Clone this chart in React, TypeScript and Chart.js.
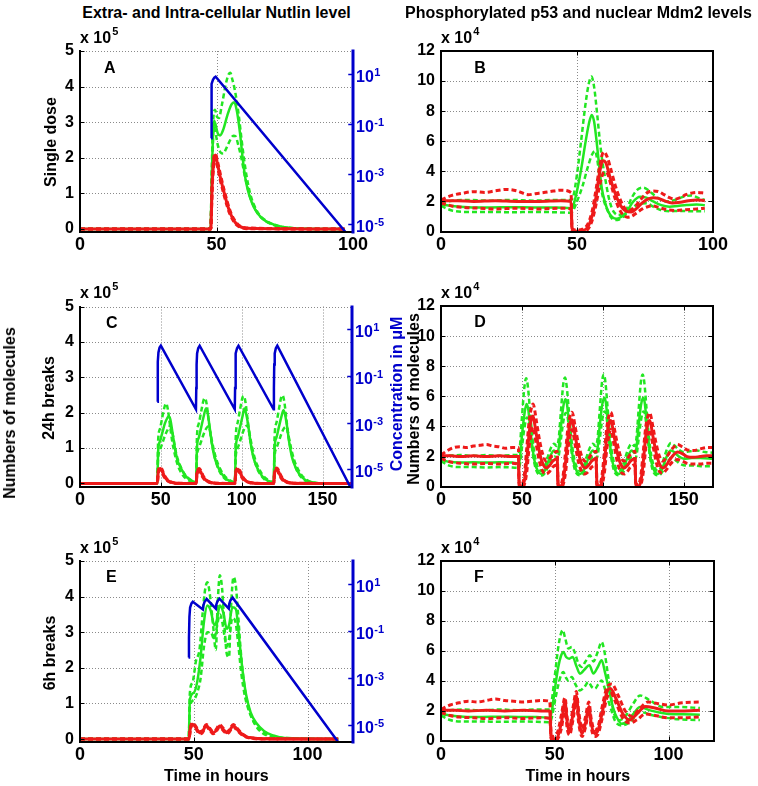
import React, { useEffect, useRef } from 'react';
import { Chart, registerables } from 'chart.js';

Chart.register(...registerables);

type P = [number, number][];

// ---------------- Panel A (single dose) : x10^5 molecules, blue = concentration (uM)
const A_GREEN_MEAN: P = [[0,0],[47.8,0],[48.3,1.6],[48.7,2.6],[49.1,3.05],[49.6,2.95],[50.4,2.7],[51.3,2.63],[52.5,2.8],[54,3.2],[55.5,3.5],[56.5,3.56],[57.5,3.3],[58.6,2.7],[59.5,2.05],[60.4,1.5],[61.5,1.08],[62.9,0.75],[64.5,0.5],[66.5,0.31],[68.5,0.2],[71.4,0.12],[74,0.06],[77.5,0.03],[82,0.01],[97,0]];
const A_GREEN_HI: P = [[0,0],[47.8,0],[48.3,1.8],[48.7,2.9],[49.4,3.35],[50.2,3.15],[50.9,3.12],[52,3.5],[53.5,4.1],[54.5,4.35],[55.1,4.39],[55.8,4.2],[56.6,3.95],[57.4,3.6],[58.3,3.1],[59.2,2.5],[60.2,1.9],[61.1,1.45],[62.3,1.0],[63.6,0.7],[65.5,0.42],[68,0.24],[71,0.12],[74,0.06],[78,0.02],[97,0]];
const A_GREEN_LO: P = [[0,0],[47.8,0],[48.3,1.4],[48.7,2.4],[48.9,2.85],[49.5,2.75],[50.5,2.35],[51.5,2.15],[52.5,2.12],[53.5,2.25],[55,2.5],[56.2,2.62],[57,2.6],[58,2.35],[59.2,1.96],[60.2,1.55],[61.1,1.25],[62.5,0.85],[64,0.58],[66,0.35],[68.5,0.2],[71.4,0.1],[75,0.05],[80,0.01],[97,0]];
const A_RED_MEAN: P = [[0,0],[47.9,0],[48.4,1.2],[49,1.9],[49.6,2.08],[50.3,1.85],[51.3,1.49],[52.2,1.2],[53.1,0.93],[54,0.68],[54.9,0.47],[55.8,0.32],[56.8,0.19],[58,0.1],[59.2,0.05],[61,0.02],[97,0]];
const A_RED_HI: P = [[0,0],[47.9,0],[48.4,1.3],[49,2.0],[49.6,2.12],[50.3,1.92],[51.3,1.58],[52.2,1.28],[53.1,1.0],[54,0.75],[54.9,0.53],[55.8,0.36],[56.8,0.23],[58,0.12],[59.2,0.06],[61,0.03],[97,0]];
const A_RED_LO: P = [[0,0],[47.9,0],[48.4,1.1],[49,1.8],[49.6,2.0],[50.3,1.78],[51.3,1.4],[52.2,1.12],[53.1,0.86],[54,0.62],[54.9,0.42],[55.8,0.28],[56.8,0.16],[58,0.08],[59.2,0.04],[61,0.01],[97,0]];
const A_BLUE: P = [[48,0.027],[48.1,0.2],[48.2,1.5],[48.3,4.0],[48.7,5.8],[49.2,7.1],[49.7,7.8],[97.1,5.0e-6]];

// ---------------- Panel B (single dose) : x10^4 molecules
const B_RED_HI: P = [[0,2.1],[4,2.4],[8,2.55],[12,2.65],[16,2.6],[20,2.7],[24,2.8],[28,2.7],[32,2.45],[36,2.55],[40,2.65],[44,2.75],[47.8,2.6],[48.2,0.2],[50,0.1],[52,0.15],[54,0.5],[55.5,1.3],[57,2.8],[58.5,4.5],[59.8,5.3],[61,5.0],[62.5,4.1],[64,3.1],[65.5,2.3],[67,1.7],[68.5,1.4],[70,1.45],[72,1.8],[74,2.25],[76,2.6],[78,2.7],[80,2.65],[82,2.45],[84,2.25],[86,2.15],[88,2.25],[90,2.45],[92,2.55],[94,2.6],[97,2.55]];
const B_RED_MEAN: P = [[0,2.05],[6,2.05],[12,2.0],[20,2.05],[28,2.0],[36,2.0],[44,2.05],[47.8,2.0],[48.2,0.05],[50,0.02],[52,0.05],[54,0.3],[55.5,1.0],[57,2.3],[58.3,3.9],[59.5,4.7],[60.5,4.6],[62,3.7],[63.5,2.8],[65,2.1],[66.5,1.6],[68,1.35],[70,1.3],[72,1.55],[74,1.9],[76,2.15],[78,2.25],[80,2.2],[82,2.05],[85,1.9],[88,1.95],[91,2.05],[94,2.1],[97,2.05]];
const B_RED_LO: P = [[0,1.9],[4,1.7],[8,1.6],[14,1.55],[20,1.5],[28,1.55],[36,1.5],[44,1.55],[47.8,1.5],[48.2,0],[52,0],[54,0.15],[55.5,0.7],[57,1.8],[58.5,3.2],[60,3.95],[61,3.9],[62.5,3.1],[64,2.2],[65.5,1.5],[67,1.1],[68.5,0.95],[70,1.0],[72,1.25],[74,1.5],[76,1.65],[78,1.7],[80,1.6],[83,1.45],[86,1.4],[90,1.45],[94,1.5],[97,1.55]];
const B_GREEN_HI: P = [[0,1.9],[4,2.05],[10,2.1],[18,2.05],[26,2.1],[34,2.05],[42,2.1],[47.8,2.1],[48.6,2.3],[50,3.8],[51.5,6.0],[53,8.3],[54.3,9.8],[55.3,10.3],[56.3,9.6],[57.3,8.0],[58.3,6.2],[59.3,4.7],[60.3,3.6],[61.5,2.4],[62.7,1.6],[64,1.2],[65.2,1.1],[66.5,1.15],[68,1.4],[70,2.2],[72,2.75],[74.4,2.92],[76.5,2.7],[78.5,2.4],[81,2.1],[83,2.0],[86,2.1],[89,2.3],[92,2.4],[95,2.2],[97,2.1]];
const B_GREEN_MEAN: P = [[0,1.8],[4,1.7],[10,1.62],[18,1.6],[26,1.62],[34,1.6],[42,1.6],[47.8,1.55],[48.6,1.7],[50,2.7],[51.5,4.1],[53,5.8],[54.3,7.1],[55.4,7.75],[56.3,7.3],[57.2,6.0],[58.2,4.3],[59.1,2.9],[60.2,2.0],[61.5,1.32],[63,0.95],[64.6,0.85],[66.5,1.0],[68.3,1.32],[70.5,1.95],[73.2,2.31],[75.5,2.25],[78,2.0],[81,1.75],[84,1.65],[87,1.7],[90.3,1.76],[94,1.8],[97,1.75]];
const B_GREEN_LO: P = [[0,1.7],[4,1.4],[10,1.3],[18,1.3],[26,1.28],[34,1.3],[42,1.28],[47.8,1.25],[48.6,1.4],[50,2.0],[52,3.0],[54,4.3],[55.5,5.1],[56.6,5.35],[57.6,4.6],[58.4,3.4],[59.5,2.3],[60.9,1.54],[62.5,0.95],[64,0.76],[65.5,0.8],[67,0.98],[69,1.35],[71.9,1.76],[75.6,1.87],[78,1.65],[80.5,1.45],[84,1.35],[88,1.37],[92,1.35],[97,1.35]];

// ---------------- Panel C (24h breaks) : x10^5 molecules
const C_GREEN_HI: P = [[0,0],[47.8,0],
  [48.3,1.2],[49.5,1.55],[51,1.9],[52.5,2.2],[53.3,2.26],[54.3,2.1],[55.5,1.7],[57,1.2],[59,0.75],[61,0.45],[63,0.27],[66,0.12],[69,0.05],[71.8,0.02],
  [72.3,1.3],[73.5,1.7],[75,2.05],[76.5,2.37],[77.3,2.41],[78.3,2.25],[79.5,1.8],[81,1.28],[83,0.8],[85,0.48],[87,0.28],[90,0.12],[93,0.05],[95.8,0.02],
  [96.3,1.3],[97.5,1.72],[99,2.1],[100.5,2.43],[101.3,2.47],[102.3,2.3],[103.5,1.85],[105,1.3],[107,0.82],[109,0.49],[111,0.29],[114,0.12],[117,0.05],[119.8,0.02],
  [120.3,1.3],[121.5,1.72],[123,2.1],[124.5,2.45],[125.3,2.49],[126.3,2.32],[127.5,1.86],[129,1.3],[131,0.82],[133,0.49],[135,0.29],[138,0.12],[141,0.05],[145,0.015],[150,0],[168,0]];
const C_GREEN_MEAN: P = [[0,0],[47.8,0],
  [48.3,0.9],[49.5,1.2],[51,1.45],[52.5,1.7],[54,1.85],[54.8,1.9],[55.8,1.82],[57,1.5],[58.5,1.05],[60,0.7],[62,0.47],[64,0.3],[66,0.18],[69,0.08],[71.8,0.03],
  [72.3,1.0],[73.5,1.3],[75,1.6],[76.5,1.9],[77.9,2.12],[78.9,2.0],[80,1.65],[81.5,1.15],[83,0.78],[85,0.5],[87,0.32],[89,0.19],[92,0.08],[95.8,0.03],
  [96.3,1.0],[97.5,1.3],[99,1.6],[100.5,1.9],[101.6,2.12],[102.6,2.0],[104,1.65],[105.5,1.15],[107,0.78],[109,0.5],[111,0.32],[113,0.19],[116,0.08],[119.8,0.03],
  [120.3,1.0],[121.5,1.3],[123,1.6],[124.5,1.88],[125.8,2.07],[126.8,1.95],[128,1.62],[129.5,1.12],[131,0.76],[133,0.49],[135,0.31],[137,0.19],[140,0.08],[144,0.03],[150,0],[168,0]];
const C_GREEN_LO: P = [[0,0],[47.8,0],
  [48.3,0.7],[49.5,0.95],[51,1.15],[52.5,1.35],[54,1.5],[55.5,1.62],[56.5,1.55],[57.7,1.3],[59,0.95],[60.5,0.68],[62.5,0.45],[64.5,0.28],[67,0.15],[69.5,0.07],[71.8,0.03],
  [72.3,0.75],[73.5,1.0],[75,1.2],[76.5,1.4],[78,1.55],[79.3,1.62],[80.3,1.5],[81.5,1.22],[83,0.9],[84.5,0.65],[86.5,0.43],[88.5,0.27],[91,0.14],[93.5,0.07],[95.8,0.03],
  [96.3,0.75],[97.5,1.0],[99,1.2],[100.5,1.42],[102,1.58],[103.3,1.64],[104.3,1.52],[105.5,1.24],[107,0.9],[108.5,0.65],[110.5,0.43],[112.5,0.27],[115,0.14],[117.5,0.07],[119.8,0.03],
  [120.3,0.75],[121.5,1.0],[123,1.2],[124.5,1.4],[126,1.55],[127.3,1.6],[128.3,1.5],[129.5,1.22],[131,0.9],[132.5,0.65],[134.5,0.43],[136.5,0.27],[139,0.14],[141.5,0.07],[145,0.02],[150,0],[168,0]];
const C_RED_MEAN: P = [[0,0],[47.8,0],[48.3,0.3],[49,0.4],[49.8,0.42],[50.8,0.35],[52,0.22],[53.5,0.12],[55,0.06],[57,0.03],[60,0.01],[71.8,0],
  [72.3,0.28],[73,0.36],[73.8,0.38],[74.8,0.32],[76,0.2],[77.5,0.11],[79,0.06],[81,0.03],[84,0.01],[95.8,0],
  [96.3,0.3],[97,0.38],[97.8,0.4],[98.8,0.33],[100,0.21],[101.5,0.11],[103,0.06],[105,0.03],[108,0.01],[119.8,0],
  [120.3,0.3],[121,0.38],[121.8,0.4],[122.8,0.33],[124,0.21],[125.5,0.11],[127,0.06],[129,0.03],[132,0.01],[168,0]];
const C_RED_HI: P = [[0,0],[47.8,0],[48.3,0.34],[49,0.44],[49.8,0.46],[50.8,0.39],[52,0.25],[53.5,0.14],[55,0.07],[57,0.03],[60,0.01],[71.8,0],
  [72.3,0.32],[73,0.4],[73.8,0.42],[74.8,0.36],[76,0.23],[77.5,0.13],[79,0.07],[81,0.03],[84,0.01],[95.8,0],
  [96.3,0.34],[97,0.42],[97.8,0.44],[98.8,0.37],[100,0.24],[101.5,0.13],[103,0.07],[105,0.03],[108,0.01],[119.8,0],
  [120.3,0.34],[121,0.42],[121.8,0.44],[122.8,0.37],[124,0.24],[125.5,0.13],[127,0.07],[129,0.03],[132,0.01],[168,0]];
const C_RED_LO: P = [[0,0],[47.8,0],[48.3,0.26],[49,0.36],[49.8,0.38],[50.8,0.31],[52,0.19],[53.5,0.1],[55,0.05],[57,0.02],[60,0],[71.8,0],
  [72.3,0.24],[73,0.32],[73.8,0.34],[74.8,0.28],[76,0.17],[77.5,0.09],[79,0.05],[81,0.02],[84,0],[95.8,0],
  [96.3,0.26],[97,0.34],[97.8,0.36],[98.8,0.29],[100,0.18],[101.5,0.09],[103,0.05],[105,0.02],[108,0],[119.8,0],
  [120.3,0.26],[121,0.34],[121.8,0.36],[122.8,0.29],[124,0.18],[125.5,0.09],[127,0.05],[129,0.02],[132,0],[168,0]];
const C_BLUE: P = [[47.8,0.0078],[48.0,0.05],[48.2,0.4],[48.5,1.0],[49.2,1.6],[50,1.93],
  [71.7,0.0037],[71.9,0.03],[72.1,0.3],[72.4,0.9],[73.1,1.5],[74,1.93],
  [95.7,0.0037],[95.9,0.03],[96.1,0.3],[96.4,0.9],[97.1,1.5],[98,1.93],
  [119.7,0.0037],[119.9,0.03],[120.1,0.3],[120.4,0.9],[121.1,1.5],[122,1.93],[167,1.84e-6]];

// ---------------- Panel D (24h breaks) : x10^4 molecules
const D_RED_HI: P = [[0,2.1],[4,2.4],[8,2.6],[12,2.65],[16,2.6],[20,2.7],[24,2.75],[28,2.8],[32,2.7],[36,2.65],[40,2.55],[44,2.6],[47.8,2.6],
  [48.3,0.2],[50,0.15],[51.5,0.8],[53,2.6],[54.5,4.4],[56,5.3],[56.8,5.5],[57.5,5.3],[59,4.3],[61,3.0],[63,2.1],[65,1.7],[67,1.85],[69,2.15],[71.8,2.35],
  [72.3,0.2],[74,0.15],[75.5,0.8],[77,2.4],[78.5,4.0],[80,4.8],[80.8,4.95],[81.5,4.8],[83,3.9],[85,2.8],[87,2.0],[89,1.7],[91,1.85],[93,2.15],[95.8,2.35],
  [96.3,0.2],[98,0.15],[99.5,0.8],[101,2.4],[102.5,4.0],[104,4.8],[104.8,4.95],[105.5,4.8],[107,3.9],[109,2.8],[111,2.0],[113,1.7],[115,1.85],[117,2.15],[119.8,2.35],
  [120.3,0.2],[122,0.15],[123.5,0.8],[125,2.4],[126.5,4.0],[128,4.75],[128.8,4.9],[129.5,4.75],[131,3.9],[133,2.8],[135,2.0],[137,1.7],[139,1.9],[141,2.25],[143.5,2.6],[146,2.8],[149,2.65],[152,2.45],[156,2.4],[160,2.5],[164,2.6],[168,2.6]];
const D_RED_MEAN: P = [[0,2.05],[6,2.05],[12,2.0],[20,2.05],[28,2.0],[36,2.05],[44,2.0],[47.8,2.0],
  [48.3,0.1],[50,0.05],[51.5,0.4],[53,1.8],[54.5,3.6],[56,4.6],[56.8,4.7],[57.5,4.4],[59,3.4],[61,2.2],[63,1.5],[65,1.25],[67,1.4],[69,1.7],[71.8,1.85],
  [72.3,0.1],[74,0.05],[75.5,0.4],[77,1.7],[78.5,3.4],[80,4.3],[80.8,4.45],[81.5,4.2],[83,3.3],[85,2.2],[87,1.5],[89,1.25],[91,1.4],[93,1.7],[95.8,1.85],
  [96.3,0.1],[98,0.05],[99.5,0.4],[101,1.7],[102.5,3.4],[104,4.3],[104.8,4.4],[105.5,4.2],[107,3.3],[109,2.2],[111,1.5],[113,1.25],[115,1.4],[117,1.7],[119.8,1.85],
  [120.3,0.1],[122,0.05],[123.5,0.4],[125,1.7],[126.5,3.4],[128,4.3],[128.8,4.4],[129.5,4.2],[131,3.3],[133,2.2],[135,1.5],[137,1.25],[139,1.4],[141,1.75],[143.5,2.1],[146,2.3],[149,2.2],[152,2.0],[156,1.95],[160,2.0],[164,2.05],[168,2.05]];
const D_RED_LO: P = [[0,1.9],[4,1.7],[8,1.6],[14,1.55],[20,1.5],[28,1.55],[36,1.5],[44,1.55],[47.8,1.5],
  [48.3,0],[50,0],[51.5,0.15],[53,1.0],[54.5,2.7],[56,3.7],[56.8,3.95],[57.5,3.7],[59,2.7],[61,1.6],[63,1.0],[65,0.85],[67,1.0],[69,1.3],[71.8,1.45],
  [72.3,0],[74,0],[75.5,0.15],[77,1.0],[78.5,2.6],[80,3.55],[80.8,3.8],[81.5,3.6],[83,2.7],[85,1.6],[87,1.0],[89,0.85],[91,1.0],[93,1.3],[95.8,1.45],
  [96.3,0],[98,0],[99.5,0.15],[101,1.0],[102.5,2.6],[104,3.55],[104.8,3.8],[105.5,3.6],[107,2.7],[109,1.6],[111,1.0],[113,0.85],[115,1.0],[117,1.3],[119.8,1.45],
  [120.3,0],[122,0],[123.5,0.15],[125,1.0],[126.5,2.6],[128,3.55],[128.8,3.8],[129.5,3.6],[131,2.7],[133,1.6],[135,1.0],[137,0.9],[139,1.1],[141,1.4],[143.5,1.7],[146,1.8],[149,1.7],[152,1.55],[156,1.5],[160,1.5],[164,1.55],[168,1.55]];
const D_GREEN_HI: P = [[0,1.9],[5,2.05],[12,2.1],[20,2.05],[28,2.1],[36,2.05],[44,2.1],[47.8,2.1],
  [48.6,2.5],[50,4.6],[51.5,6.6],[52.6,7.2],[53.6,6.7],[55,5.0],[56.5,3.2],[58,2.0],[60,1.25],[62,1.05],[64,1.3],[66,2.0],[68,2.6],[69.8,2.85],[71.5,2.7],
  [72.6,3.1],[74,4.9],[75.5,6.8],[76.6,7.25],[77.6,6.7],[79,5.0],[80.5,3.2],[82,2.0],[84,1.25],[86,1.05],[88,1.3],[90,2.0],[92,2.6],[93.8,2.85],[95.5,2.7],
  [96.6,3.1],[98,5.0],[99.5,7.0],[100.6,7.45],[101.6,6.9],[103,5.1],[104.5,3.2],[106,2.0],[108,1.25],[110,1.05],[112,1.3],[114,2.0],[116,2.6],[117.8,2.85],[119.5,2.7],
  [120.6,3.1],[122,5.0],[123.5,7.0],[124.6,7.45],[125.6,6.9],[127,5.1],[128.5,3.2],[130,2.0],[132,1.25],[134,1.05],[136,1.3],[138,2.0],[140,2.6],[142,2.9],[144,2.75],[147,2.45],[150,2.3],[154,2.35],[158,2.4],[163,2.3],[168,2.25]];
const D_GREEN_MEAN: P = [[0,1.8],[5,1.65],[12,1.6],[20,1.62],[28,1.6],[36,1.62],[44,1.6],[47.8,1.55],
  [48.6,1.8],[50,3.4],[51.5,4.8],[52.8,5.5],[53.8,5.2],[55,4.0],[56.5,2.6],[58,1.6],[60,1.0],[62,0.85],[64,1.05],[66,1.6],[68,2.15],[69.8,2.4],[71.5,2.25],
  [72.6,2.5],[74,3.9],[75.5,5.3],[76.8,5.8],[77.8,5.5],[79,4.2],[80.5,2.7],[82,1.6],[84,1.0],[86,0.85],[88,1.05],[90,1.6],[92,2.15],[93.8,2.4],[95.5,2.25],
  [96.6,2.5],[98,4.0],[99.5,5.4],[100.8,5.9],[101.8,5.6],[103,4.3],[104.5,2.7],[106,1.6],[108,1.0],[110,0.85],[112,1.05],[114,1.6],[116,2.15],[117.8,2.4],[119.5,2.25],
  [120.6,2.5],[122,4.0],[123.5,5.4],[124.8,5.9],[125.8,5.6],[127,4.3],[128.5,2.7],[130,1.6],[132,1.0],[134,0.85],[136,1.05],[138,1.6],[140,2.15],[142,2.4],[144,2.3],[147,2.0],[150,1.85],[155,1.9],[160,1.9],[168,1.85]];
const D_GREEN_LO: P = [[0,1.7],[5,1.4],[12,1.3],[20,1.3],[28,1.28],[36,1.3],[44,1.28],[47.8,1.25],
  [48.6,1.4],[50,2.6],[51.5,3.9],[53,4.6],[54,4.5],[55.3,3.4],[56.8,2.1],[58.5,1.2],[60.5,0.8],[62.5,0.75],[64.5,0.95],[66.5,1.45],[68.5,1.85],[70.3,2.0],[71.6,1.85],
  [72.6,2.0],[74,3.1],[75.5,4.3],[77,4.9],[78,4.75],[79.3,3.6],[80.8,2.2],[82.5,1.2],[84.5,0.8],[86.5,0.75],[88.5,0.95],[90.5,1.45],[92.5,1.85],[94.3,2.0],[95.6,1.85],
  [96.6,2.0],[98,3.1],[99.5,4.4],[101,5.0],[102,4.8],[103.3,3.6],[104.8,2.2],[106.5,1.2],[108.5,0.8],[110.5,0.75],[112.5,0.95],[114.5,1.45],[116.5,1.85],[118.3,2.0],[119.6,1.85],
  [120.6,2.0],[122,3.1],[123.5,4.4],[125,5.0],[126,4.8],[127.3,3.6],[128.8,2.2],[130.5,1.2],[132.5,0.8],[134.5,0.75],[136.5,0.95],[138.5,1.4],[140.5,1.75],[142.5,1.9],[145,1.75],[148,1.5],[152,1.4],[157,1.4],[162,1.35],[168,1.35]];

// ---------------- Panel E (6h breaks) : x10^5 molecules
const E_GREEN_HI: P = [[0,0],[47.8,0],[48.3,1.3],[49.5,1.6],[51,2.2],[52.5,2.5],[54,3.6],[55,4.2],[56,4.4],[57,4.1],[58.5,3.2],[59.7,2.5],[60.5,3.8],[61.5,4.6],[62.5,4.2],[63.5,3.2],[64.5,2.4],[65.5,2.3],[66.3,3.6],[67.5,4.55],[68.5,4.3],[69.5,3.5],[70.5,2.6],[71.5,1.9],[73,1.2],[75,0.7],[77,0.4],[80,0.18],[84,0.07],[90,0.02],[113.5,0]];
const E_GREEN_MEAN: P = [[0,0],[47.8,0],[48.3,1.1],[50,1.3],[51.5,1.6],[53,2.3],[54.5,3.3],[56,3.75],[57.5,3.6],[59,3.2],[60,3.3],[61.5,3.75],[63,3.55],[64.5,3.1],[65.5,3.2],[67,3.7],[68.5,3.65],[70,2.8],[71.5,1.9],[73,1.25],[75,0.75],[77.5,0.45],[81,0.22],[85,0.1],[90,0.03],[113.5,0]];
const E_GREEN_LO: P = [[0,0],[47.8,0],[48.3,0.9],[50,1.1],[51.5,1.3],[53,1.7],[54.5,2.6],[56,3.0],[57.5,3.0],[59,2.8],[60,3.1],[61.5,3.5],[62.5,3.3],[63.5,2.9],[64.5,2.6],[65.5,2.8],[67,3.4],[68.3,3.3],[69.5,2.7],[71,1.8],[72.5,1.2],[74.5,0.75],[77,0.42],[80,0.22],[84,0.09],[90,0.03],[113.5,0]];
const E_RED_MEAN: P = [[0,0],[47.9,0],[48.5,0.3],[49.5,0.42],[51,0.32],[52.5,0.18],[53.7,0.2],[55.5,0.38],[57,0.28],[58.5,0.18],[59.6,0.22],[61.4,0.37],[63,0.27],[64.5,0.18],[65.5,0.22],[67.4,0.38],[69,0.28],[71,0.15],[73,0.07],[76,0.03],[80,0.01],[113.5,0]];
const E_RED_HI: P = [[0,0],[47.9,0],[48.5,0.33],[49.5,0.45],[51,0.35],[52.5,0.21],[53.7,0.23],[55.5,0.41],[57,0.31],[58.5,0.21],[59.6,0.25],[61.4,0.4],[63,0.3],[64.5,0.21],[65.5,0.25],[67.4,0.41],[69,0.31],[71,0.17],[73,0.08],[76,0.03],[80,0.01],[113.5,0]];
const E_RED_LO: P = [[0,0],[47.9,0],[48.5,0.27],[49.5,0.39],[51,0.29],[52.5,0.15],[53.7,0.17],[55.5,0.35],[57,0.25],[58.5,0.15],[59.6,0.19],[61.4,0.34],[63,0.24],[64.5,0.15],[65.5,0.19],[67.4,0.35],[69,0.25],[71,0.13],[73,0.06],[76,0.02],[80,0],[113.5,0]];
const E_BLUE: P = [[47.7,0.0074],[47.9,0.05],[48.1,0.4],[48.4,1.0],[49,1.5],[49.6,1.78],[54,0.83],[54.2,1.2],[54.7,1.7],[55.7,2.3],[59.7,0.89],[59.9,1.3],[60.4,1.85],[61.3,2.4],[65.4,0.89],[65.6,1.4],[66.1,2.0],[67.1,2.63],[113.3,2.0e-6]];

// ---------------- Panel F (6h breaks) : x10^4 molecules
const F_RED_HI: P = [[0,2.1],[4,2.4],[8,2.55],[12,2.65],[16,2.6],[20,2.7],[24,2.8],[28,2.7],[32,2.65],[36,2.6],[40,2.65],[44,2.7],[47.8,2.65],[48.5,0.3],[51,0.5],[53,1.8],[54.5,2.9],[55.5,1.5],[56.5,0.9],[58,2.2],[59.5,3.3],[60.5,2.0],[62,0.8],[63.5,1.6],[65,2.6],[66,1.5],[67.5,0.7],[69,0.95],[71,2.4],[73,3.6],[75,3.8],[78,3.0],[81,2.0],[84,1.65],[87,2.1],[91,2.6],[95,2.5],[100,2.4],[106,2.55],[113.8,2.6]];
const F_RED_MEAN: P = [[0,2.05],[6,2.05],[12,2.0],[20,2.05],[28,2.0],[36,2.05],[44,2.0],[47.8,2.0],[48.5,0.1],[51,0.2],[53,1.3],[54.5,2.6],[55.5,1.2],[56.5,0.6],[58,1.8],[59.5,3.0],[60.5,1.6],[62,0.5],[63.5,1.2],[65,2.3],[66,1.2],[67.5,0.5],[69,0.7],[71,2.0],[73,3.3],[74.5,3.5],[77,2.8],[80,1.8],[83,1.4],[86,1.8],[90,2.3],[94,2.2],[100,2.0],[106,2.0],[113.8,2.05]];
const F_RED_LO: P = [[0,1.9],[4,1.7],[8,1.6],[14,1.55],[20,1.5],[28,1.55],[36,1.5],[44,1.55],[47.8,1.5],[48.5,0.05],[51,0.1],[53,0.9],[54.5,2.2],[55.5,0.8],[56.5,0.4],[58,1.4],[59.5,2.6],[60.5,1.2],[62,0.3],[63.5,0.9],[65,2.0],[66,0.9],[67.5,0.3],[69,0.45],[71,1.6],[73,2.9],[74.5,3.2],[77,2.5],[80,1.5],[83,1.2],[86,1.4],[90,1.8],[94,1.7],[100,1.55],[106,1.55],[113.8,1.6]];
const F_GREEN_HI: P = [[0,1.9],[4,2.05],[10,2.1],[18,2.05],[26,2.1],[34,2.05],[42,2.1],[47.8,2.1],[48.6,2.6],[50,4.3],[51.5,6.2],[52.6,7.1],[53.5,7.39],[54.5,6.9],[56,6.16],[57.5,6.27],[58.8,5.9],[60.3,5.2],[61.8,4.93],[63.5,5.3],[65.5,5.71],[67,5.3],[68.8,5.9],[70.6,6.6],[71.8,6.0],[73.5,4.27],[74.7,3.0],[75.7,2.04],[77.9,1.37],[80.8,1.6],[84.5,2.49],[87.5,3.04],[91.9,2.7],[97.7,2.26],[105,2.26],[113.8,2.2]];
const F_GREEN_MEAN: P = [[0,1.8],[4,1.7],[10,1.62],[18,1.6],[26,1.62],[34,1.6],[42,1.6],[47.8,1.55],[48.6,1.9],[50,3.4],[51.5,4.9],[52.8,5.7],[53.8,5.94],[55,5.6],[56.4,5.49],[57.9,5.6],[59.5,5.0],[61.1,4.49],[63,4.75],[65.2,5.05],[67,4.5],[68.8,4.9],[70.6,5.38],[72.2,4.5],[74.2,3.15],[75.7,2.2],[77.2,1.6],[79.4,1.15],[82.3,1.37],[85,1.9],[87.5,2.26],[91.9,2.04],[99.2,1.82],[106,1.78],[113.8,1.75]];
const F_GREEN_LO: P = [[0,1.7],[4,1.4],[10,1.3],[18,1.3],[26,1.28],[34,1.3],[42,1.28],[47.8,1.25],[48.6,1.5],[50,2.6],[51.5,3.7],[52.8,4.4],[53.8,4.6],[55,4.2],[56,4.04],[57.5,4.27],[59,3.8],[61.1,3.37],[63,3.6],[64.8,3.93],[66.3,3.6],[67.7,3.49],[69.2,3.8],[70.6,4.04],[72,3.5],[73.5,2.7],[75,2.0],[76.4,1.37],[79.4,1.04],[83,1.26],[87.5,1.93],[93.4,1.7],[102.2,1.48],[108,1.42],[113.8,1.4]];

// ---------------- ticks
const X_TICKS_100 = [0, 50, 100];
const X_TICKS_168 = [0, 50, 100, 150];
const X_TICKS_120 = [0, 50, 100];
const Y_TICKS_LEFT = [0, 1, 2, 3, 4, 5];
const Y_TICKS_RIGHT = [0, 2, 4, 6, 8, 10, 12];
const LOG_TICKS = [1e-5, 1e-3, 1e-1, 10];
const LOG_EXPONENTS = ['-5', '-3', '-1', '1'];

// ---------------- styles
const FONT = '"Liberation Sans", Arial, Helvetica, sans-serif';
const GREEN = '#22e622';
const RED = '#ee1a1a';
const BLUE = '#0000cc';
const GRID = '#8a8a8a';

type Series = { data: P; color: string; dashed: boolean; width: number };
type Spec = {
  x: number; y: number; w: number; h: number;
  padTop: number; padRight: number; yAxisW: number; rightW: number; xAxisH: number;
  xMax: number; xTicks: number[]; yMin: number; yMax: number; yTicks: number[];
  log?: { min: number; max: number; data: P };
  series: Series[];
};

const trio = (hi: P, mean: P, lo: P, color: string, width: number): Series[] => [
  { data: hi, color, dashed: true, width },
  { data: mean, color, dashed: false, width },
  { data: lo, color, dashed: true, width },
];

const PANELS: Spec[] = [
  { x: 0, y: 30, w: 400, h: 230, padTop: 21, padRight: 0, yAxisW: 80, rightW: 47, xAxisH: 28.5,
    xMax: 100, xTicks: X_TICKS_100, yMin: -0.07, yMax: 5, yTicks: Y_TICKS_LEFT,
    log: { min: 5.0e-6, max: 83, data: A_BLUE },
    series: [...trio(A_RED_HI, A_RED_MEAN, A_RED_LO, RED, 3), ...trio(A_GREEN_HI, A_GREEN_MEAN, A_GREEN_LO, GREEN, 2.5)] },
  { x: 380, y: 30, w: 378, h: 230, padTop: 21, padRight: 45, yAxisW: 61, rightW: 0, xAxisH: 28.5,
    xMax: 100, xTicks: X_TICKS_100, yMin: 0, yMax: 12, yTicks: Y_TICKS_RIGHT,
    series: [...trio(B_RED_HI, B_RED_MEAN, B_RED_LO, RED, 3), ...trio(B_GREEN_HI, B_GREEN_MEAN, B_GREEN_LO, GREEN, 2.5)] },
  { x: 0, y: 285, w: 400, h: 230, padTop: 21.5, padRight: 0, yAxisW: 80, rightW: 48.3, xAxisH: 28.5,
    xMax: 168, xTicks: X_TICKS_168, yMin: -0.085, yMax: 5, yTicks: Y_TICKS_LEFT,
    log: { min: 1.84e-6, max: 91.6, data: C_BLUE },
    series: [...trio(C_RED_HI, C_RED_MEAN, C_RED_LO, RED, 3), ...trio(C_GREEN_HI, C_GREEN_MEAN, C_GREEN_LO, GREEN, 2.5)] },
  { x: 380, y: 285, w: 378, h: 230, padTop: 21, padRight: 45, yAxisW: 61, rightW: 0, xAxisH: 28.3,
    xMax: 168, xTicks: X_TICKS_168, yMin: 0, yMax: 12, yTicks: Y_TICKS_RIGHT,
    series: [...trio(D_RED_HI, D_RED_MEAN, D_RED_LO, RED, 3), ...trio(D_GREEN_HI, D_GREEN_MEAN, D_GREEN_LO, GREEN, 2.5)] },
  { x: 0, y: 540, w: 400, h: 230, padTop: 21, padRight: 0, yAxisW: 80, rightW: 47, xAxisH: 28.5,
    xMax: 120, xTicks: X_TICKS_120, yMin: -0.067, yMax: 5, yTicks: Y_TICKS_LEFT,
    log: { min: 2.0e-6, max: 95.3, data: E_BLUE },
    series: [...trio(E_RED_HI, E_RED_MEAN, E_RED_LO, RED, 3), ...trio(E_GREEN_HI, E_GREEN_MEAN, E_GREEN_LO, GREEN, 2.5)] },
  { x: 380, y: 540, w: 378, h: 230, padTop: 21, padRight: 44, yAxisW: 61, rightW: 0, xAxisH: 29,
    xMax: 120, xTicks: X_TICKS_120, yMin: 0, yMax: 12, yTicks: Y_TICKS_RIGHT,
    series: [...trio(F_RED_HI, F_RED_MEAN, F_RED_LO, RED, 3), ...trio(F_GREEN_HI, F_GREEN_MEAN, F_GREEN_LO, GREEN, 2.5)] },
];

function framePlugin(s: Spec) {
  return {
    id: 'frame',
    beforeDatasetsDraw(chart: any) {
      const { ctx, chartArea: a, scales } = chart;
      ctx.save();
      ctx.strokeStyle = GRID;
      ctx.lineWidth = 1;
      ctx.setLineDash([1, 2]);
      for (const v of s.xTicks) {
        if (v <= 0 || v >= s.xMax) continue;
        const px = Math.round(scales.x.getPixelForValue(v)) + 0.5;
        ctx.beginPath(); ctx.moveTo(px, a.top); ctx.lineTo(px, a.bottom); ctx.stroke();
      }
      for (const v of s.yTicks) {
        if (v <= 0) continue;
        const py = Math.round(scales.y.getPixelForValue(v)) + 0.5;
        ctx.beginPath(); ctx.moveTo(a.left, py); ctx.lineTo(a.right, py); ctx.stroke();
      }
      ctx.restore();
    },
    afterDatasetsDraw(chart: any) {
      const { ctx, chartArea: a, scales } = chart;
      const L = Math.round(a.left), R = Math.round(a.right), T = Math.round(a.top), B = Math.round(a.bottom);
      ctx.save();
      ctx.setLineDash([]);
      ctx.lineCap = 'square';
      const line = (x1: number, y1: number, x2: number, y2: number, c: string, w: number) => {
        ctx.strokeStyle = c; ctx.lineWidth = w;
        ctx.beginPath(); ctx.moveTo(x1, y1); ctx.lineTo(x2, y2); ctx.stroke();
      };
      const tl = 4;
      for (const v of s.yTicks) {
        const py = Math.round(scales.y.getPixelForValue(v)) + 0.5;
        line(L, py, L + tl, py, '#000', 1);
        if (!s.log) line(R, py, R - tl, py, '#000', 1);
      }
      for (const v of s.xTicks) {
        const px = Math.round(scales.x.getPixelForValue(v)) + 0.5;
        line(px, B, px, B - tl, '#000', 1);
        if (!s.log) line(px, T, px, T + tl, '#000', 1);
      }
      if (s.log) {
        LOG_TICKS.forEach((v, i) => {
          const py = Math.round(scales.y2.getPixelForValue(v)) + 0.5;
          line(R, py, R - tl, py, BLUE, 1.5);
          // tick label: "10" with a raised exponent
          ctx.fillStyle = BLUE;
          ctx.textAlign = 'left';
          ctx.textBaseline = 'alphabetic';
          ctx.font = `bold 16px ${FONT}`;
          const x0 = R + 3;
          ctx.fillText('10', x0, py + 7.5);
          const w = ctx.measureText('10').width;
          ctx.font = `bold 11px ${FONT}`;
          ctx.fillText(LOG_EXPONENTS[i], x0 + w + 0.5, py + 1.5);
        });
      }
      line(L, T, L, B, '#000', 2);
      line(L, B, R, B, '#000', 2);
      if (s.log) {
        line(R, T, R, B, BLUE, 3);
      } else {
        line(L, T, R, T, '#000', 2);
        line(R, T, R, B, '#000', 2);
      }
      ctx.restore();
    },
  };
}

function buildConfig(s: Spec): any {
  const toXY = (p: P) => p.map(([x, y]) => ({ x, y }));
  const datasets: any[] = [];
  if (s.log) {
    datasets.push({ data: toXY(s.log.data), yAxisID: 'y2', borderColor: BLUE, borderWidth: 2.5, tension: 0, pointRadius: 0, fill: false });
  }
  for (const ser of s.series) {
    datasets.push({
      data: toXY(ser.data), yAxisID: 'y', borderColor: ser.color, borderWidth: ser.width,
      borderDash: ser.dashed ? [5, 3] : [], pointRadius: 0, fill: false,
      cubicInterpolationMode: 'monotone',
    });
  }
  const tickFontX = { family: FONT, size: 18, weight: 'bold' };
  const tickFontY = { family: FONT, size: 16, weight: 'bold' };
  const scales: any = {
    x: {
      type: 'linear', min: 0, max: s.xMax,
      grid: { display: false, drawTicks: false }, border: { display: false },
      ticks: { color: '#000', font: tickFontX, padding: 3, autoSkip: false, maxRotation: 0, callback: (v: number) => String(v) },
      afterBuildTicks: (sc: any) => { sc.ticks = s.xTicks.map((v) => ({ value: v })); },
      afterFit: (sc: any) => { sc.height = s.xAxisH; },
    },
    y: {
      type: 'linear', position: 'left', min: s.yMin, max: s.yMax,
      grid: { display: false, drawTicks: false }, border: { display: false },
      ticks: { color: '#000', font: tickFontY, padding: 6, autoSkip: false, callback: (v: number) => String(v) },
      afterBuildTicks: (sc: any) => { sc.ticks = s.yTicks.map((v) => ({ value: v })); },
      afterFit: (sc: any) => { sc.width = s.yAxisW; },
    },
  };
  if (s.log) {
    scales.y2 = {
      type: 'logarithmic', position: 'right', min: s.log.min, max: s.log.max,
      grid: { display: false, drawTicks: false }, border: { display: false },
      ticks: { display: false },
      afterBuildTicks: (sc: any) => { sc.ticks = LOG_TICKS.map((v) => ({ value: v })); },
      afterFit: (sc: any) => { sc.width = s.rightW; },
    };
  }
  return {
    type: 'line',
    data: { datasets },
    options: {
      animation: false, responsive: false, maintainAspectRatio: false, devicePixelRatio: 1,
      layout: { padding: { top: s.padTop, right: s.padRight, left: 0, bottom: 0 } },
      plugins: { legend: { display: false }, tooltip: { enabled: false }, title: { display: false } },
      elements: { point: { radius: 0 } },
      events: [],
      scales,
    },
    plugins: [framePlugin(s)],
  };
}

function Panel({ spec }: { spec: Spec }) {
  const ref = useRef<HTMLCanvasElement>(null);
  useEffect(() => {
    if (!ref.current) return;
    const chart = new Chart(ref.current, buildConfig(spec));
    return () => chart.destroy();
  }, [spec]);
  return (
    <canvas ref={ref} width={spec.w} height={spec.h}
      style={{ position: 'absolute', left: spec.x, top: spec.y, width: spec.w, height: spec.h, display: 'block' }} />
  );
}

const BOLD: React.CSSProperties = { position: 'absolute', fontFamily: FONT, fontWeight: 'bold', whiteSpace: 'nowrap', color: '#000', fontSize: 16, lineHeight: '16px' };

function VLabel({ text, cx, cy, color }: { text: string; cx: number; cy: number; color?: string }) {
  return (
    <div style={{ ...BOLD, left: cx, top: cy, color: color ?? '#000', transform: 'translate(-50%, -50%) rotate(-90deg)' }}>{text}</div>
  );
}

function Mult({ left, top, exp }: { left: number; top: number; exp: string }) {
  return (
    <div style={{ ...BOLD, left, top }}>
      x 10<span style={{ fontSize: 11, position: 'relative', top: -8, marginLeft: 1 }}>{exp}</span>
    </div>
  );
}

export default function App() {
  return (
    <div style={{ position: 'absolute', left: 0, top: 0, width: 758, height: 786, background: '#fff', overflow: 'hidden' }}>
      {PANELS.map((p, i) => <Panel key={i} spec={p} />)}

      <div style={{ ...BOLD, left: 216.5, top: 5, transform: 'translateX(-50%)' }}>Extra- and Intra-cellular Nutlin level</div>
      <div style={{ ...BOLD, left: 578.5, top: 5, transform: 'translateX(-50%)' }}>Phosphorylated p53 and nuclear Mdm2 levels</div>

      <Mult left={80} top={30} exp="5" />
      <Mult left={441} top={30} exp="4" />
      <Mult left={80} top={285} exp="5" />
      <Mult left={441} top={284.5} exp="4" />
      <Mult left={80} top={540} exp="5" />
      <Mult left={441} top={540} exp="4" />

      <div style={{ ...BOLD, left: 104, top: 59.6 }}>A</div>
      <div style={{ ...BOLD, left: 474.3, top: 59.6 }}>B</div>
      <div style={{ ...BOLD, left: 106, top: 314.6 }}>C</div>
      <div style={{ ...BOLD, left: 474.3, top: 314 }}>D</div>
      <div style={{ ...BOLD, left: 106, top: 569 }}>E</div>
      <div style={{ ...BOLD, left: 474, top: 569 }}>F</div>

      <VLabel text="Single dose" cx={51} cy={141.7} />
      <VLabel text="24h breaks" cx={49} cy={397.5} />
      <VLabel text="6h breaks" cx={50} cy={653} />
      <VLabel text="Numbers of molecules" cx={10} cy={412.5} />
      <VLabel text="Concentration in μM" cx={397} cy={394} color={BLUE} />
      <VLabel text="Numbers of molecules" cx={414} cy={399} />

      <div style={{ ...BOLD, left: 216.3, top: 768, transform: 'translateX(-50%)' }}>Time in hours</div>
      <div style={{ ...BOLD, left: 577.8, top: 768, transform: 'translateX(-50%)' }}>Time in hours</div>
    </div>
  );
}
